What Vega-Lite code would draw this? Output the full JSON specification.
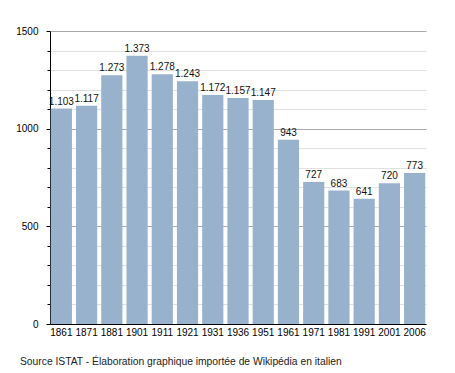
{
  "$schema": "https://vega.github.io/schema/vega-lite/v6.json",
  "autosize": "none",
  "width": 376,
  "height": 293,
  "padding": {"left": 50, "top": 31, "right": 29, "bottom": 49},
  "background": "white",
  "config": {
    "locale": {"number": {"decimal": ",", "thousands": ".", "grouping": [3], "currency": ["", " €"]}},
    "view": {"stroke": null},
    "font": "Liberation Sans"
  },
  "title": {
    "text": "Source ISTAT - Élaboration graphique importée de Wikipédia en italien",
    "orient": "bottom",
    "anchor": "start",
    "frame": "group",
    "dx": -30,
    "offset": 20,
    "fontSize": 10.3,
    "fontWeight": "normal",
    "font": "Liberation Sans",
    "color": "#222"
  },
  "data": {
    "values": [
      {"anno": "1861", "abitanti": 1103},
      {"anno": "1871", "abitanti": 1117},
      {"anno": "1881", "abitanti": 1273},
      {"anno": "1901", "abitanti": 1373},
      {"anno": "1911", "abitanti": 1278},
      {"anno": "1921", "abitanti": 1243},
      {"anno": "1931", "abitanti": 1172},
      {"anno": "1936", "abitanti": 1157},
      {"anno": "1951", "abitanti": 1147},
      {"anno": "1961", "abitanti": 943},
      {"anno": "1971", "abitanti": 727},
      {"anno": "1981", "abitanti": 683},
      {"anno": "1991", "abitanti": 641},
      {"anno": "2001", "abitanti": 720},
      {"anno": "2006", "abitanti": 773}
    ]
  },
  "encoding": {
    "x": {
      "field": "anno",
      "type": "ordinal",
      "sort": null,
      "scale": {"paddingInner": 0.16, "paddingOuter": 0.03},
      "axis": {
        "title": null,
        "labelAngle": 0,
        "ticks": false,
        "domainColor": "#000",
        "labelColor": "#000",
        "labelFontSize": 10,
        "labelPadding": 3,
        "labelFont": "Liberation Sans"
      }
    },
    "y": {
      "field": "abitanti",
      "type": "quantitative",
      "scale": {"domain": [0, 1500], "nice": false},
      "axis": {
        "title": null,
        "values": [0,100,200,300,400,500,600,700,800,900,1000,1100,1200,1300,1400,1500],
        "format": "d",
        "labelExpr": "datum.value % 500 === 0 ? datum.label : ''",
        "domainColor": "#000",
        "tickColor": "#000",
        "tickSize": {"condition": {"test": "datum.value % 500 === 0", "value": 4}, "value": 3},
        "gridColor": {"condition": {"test": "datum.value % 500 === 0", "value": "#aaaaaa"}, "value": "#e0e0e0"},
        "labelColor": "#000",
        "labelFontSize": 10,
        "labelPadding": 8,
        "labelFont": "Liberation Sans"
      }
    }
  },
  "layer": [
    {"mark": {"type": "bar", "color": "#98b2cd"}},
    {
      "mark": {"type": "text", "baseline": "bottom", "dy": -2, "fontSize": 10, "color": "#111", "font": "Liberation Sans"},
      "encoding": {"text": {"field": "abitanti", "type": "quantitative", "format": ","}}
    }
  ]
}
